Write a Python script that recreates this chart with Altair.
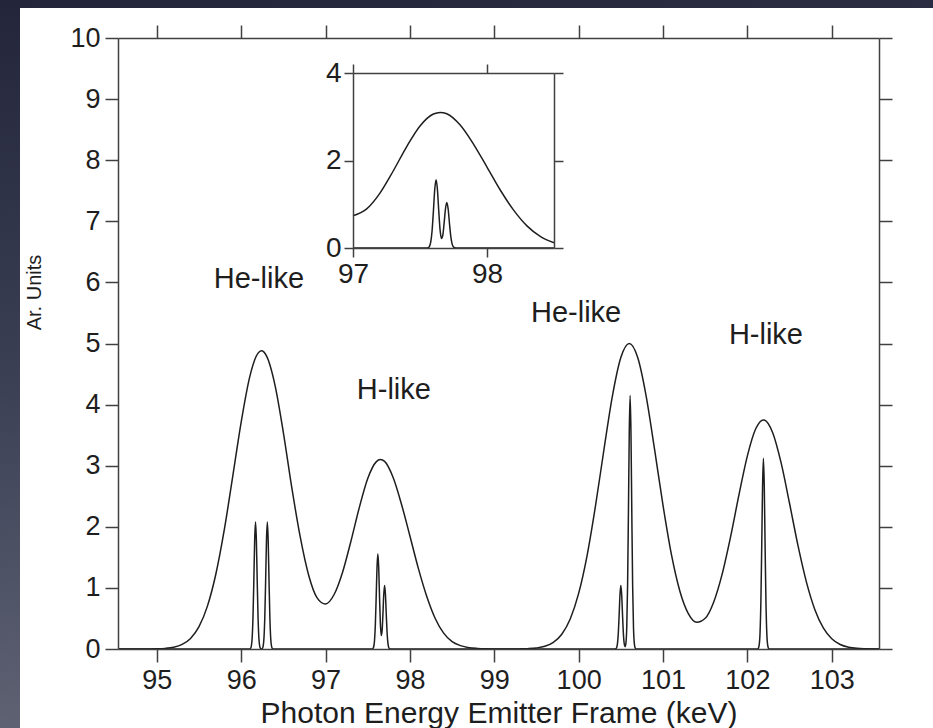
import altair as alt
import pandas as pd

# Broad (Doppler-broadened) emission envelope, keV vs arbitrary units
env_energy = [
    94.5, 94.6, 94.7, 94.8, 94.9, 95.0, 95.1, 95.2, 95.3, 95.4,
    95.5, 95.6, 95.7, 95.8, 95.9, 96.0, 96.1, 96.2, 96.24, 96.3,
    96.4, 96.5, 96.6, 96.7, 96.8, 96.9, 97.0, 97.1, 97.2, 97.3,
    97.4, 97.5, 97.6, 97.65, 97.7, 97.8, 97.9, 98.0, 98.1, 98.2,
    98.3, 98.4, 98.5, 98.6, 98.7, 98.8, 98.9, 99.0, 99.1, 99.2,
    99.3, 99.4, 99.5, 99.6, 99.7, 99.8, 99.9, 100.0, 100.1, 100.2,
    100.3, 100.4, 100.5, 100.6, 100.7, 100.8, 100.9, 101.0, 101.1, 101.2,
    101.3, 101.4, 101.5, 101.6, 101.7, 101.8, 101.9, 102.0, 102.1, 102.19,
    102.2, 102.3, 102.4, 102.5, 102.6, 102.7, 102.8, 102.9, 103.0, 103.1,
    103.2, 103.3, 103.4, 103.5, 103.6,
]
env_value = [
    0.0, 0.0, 0.0, 0.0, 0.001, 0.003, 0.010, 0.029, 0.075, 0.173,
    0.366, 0.702, 1.227, 1.952, 2.826, 3.714, 4.446, 4.843, 4.880, 4.797,
    4.324, 3.543, 2.640, 1.834, 1.207, 0.837, 0.736, 0.888, 1.249, 1.760,
    2.314, 2.790, 3.063, 3.100, 3.070, 2.810, 2.370, 1.850, 1.320, 0.860,
    0.500, 0.260, 0.120, 0.055, 0.022, 0.009, 0.003, 0.001, 0.0, 0.0,
    0.002, 0.006, 0.017, 0.044, 0.108, 0.242, 0.492, 0.910, 1.530, 2.345,
    3.265, 4.140, 4.770, 5.000, 4.770, 4.140, 3.266, 2.350, 1.544, 0.946,
    0.580, 0.437, 0.502, 0.766, 1.221, 1.832, 2.522, 3.161, 3.608, 3.750,
    3.748, 3.540, 3.045, 2.381, 1.691, 1.095, 0.644, 0.345, 0.168, 0.074,
    0.030, 0.011, 0.004, 0.001, 0.0,
]

# Narrow intrinsic line profiles (He-like pairs and H-like lines)
line_energy = [
    94.5, 96.10, 96.11, 96.12, 96.13, 96.14, 96.15, 96.16, 96.17, 96.18,
    96.19, 96.20, 96.21, 96.22, 96.23, 96.24, 96.25, 96.26, 96.27, 96.28,
    96.29, 96.30, 96.31, 96.32, 96.33, 96.34, 96.35, 96.36, 96.37, 96.38,
    97.0, 97.55, 97.56, 97.57, 97.58, 97.59, 97.60, 97.61, 97.62, 97.63,
    97.64, 97.65, 97.66, 97.67, 97.68, 97.69, 97.70, 97.71, 97.72, 97.73,
    97.74, 97.75, 97.76, 97.77, 98.5, 100.43, 100.44, 100.45, 100.46, 100.47,
    100.48, 100.49, 100.50, 100.51, 100.52, 100.53, 100.54, 100.55, 100.56, 100.57,
    100.58, 100.59, 100.60, 100.61, 100.62, 100.63, 100.64, 100.65, 100.66, 100.67,
    100.68, 100.69, 102.12, 102.13, 102.14, 102.15, 102.16, 102.17, 102.18, 102.19,
    102.20, 102.21, 102.22, 102.23, 102.24, 102.25, 102.26, 103.6,
]
line_value = [
    0.0, 0.0, 0.008, 0.044, 0.176, 0.518, 1.121, 1.783, 2.08, 1.783,
    1.121, 0.518, 0.176, 0.044, 0.008, 0.002, 0.008, 0.044, 0.176, 0.518,
    1.121, 1.783, 2.08, 1.783, 1.121, 0.518, 0.176, 0.044, 0.008, 0.0,
    0.0, 0.0, 0.006, 0.033, 0.132, 0.388, 0.841, 1.337, 1.56, 1.338,
    0.845, 0.410, 0.220, 0.292, 0.567, 0.892, 1.04, 0.891, 0.561, 0.259,
    0.088, 0.022, 0.004, 0.0, 0.0, 0.0, 0.004, 0.022, 0.088, 0.259,
    0.561, 0.891, 1.04, 0.891, 0.561, 0.259, 0.090, 0.038, 0.092, 0.352,
    1.033, 2.237, 3.557, 4.15, 3.557, 2.237, 1.033, 0.352, 0.088, 0.016,
    0.002, 0.0, 0.0, 0.012, 0.066, 0.264, 0.777, 1.682, 2.674, 3.12,
    2.674, 1.682, 0.777, 0.264, 0.066, 0.012, 0.0, 0.0,
]

# Peak annotations
note_text = ["He-like", "H-like", "He-like", "H-like"]
note_energy = [96.21, 97.81, 99.97, 102.22]
note_value = [6.06, 4.24, 5.50, 5.14]

# Tick positions
main_ticks_x = [95, 96, 97, 98, 99, 100, 101, 102, 103]
main_ticks_y = [0, 1, 2, 3, 4, 5, 6, 7, 8, 9, 10]
inset_ticks_x = [97, 98]
inset_ticks_y = [0, 2, 4]

spectrum = pd.concat([
    pd.DataFrame({"energy": env_energy, "value": env_value, "series": "envelope"}),
    pd.DataFrame({"energy": line_energy, "value": line_value, "series": "lines"}),
], ignore_index=True)
notes_df = pd.DataFrame({"energy": note_energy, "value": note_value, "text": note_text})

W, H = 761, 611
PAD = {"left": 118, "top": 38, "right": 933 - 118 - W, "bottom": 728 - 38 - H}
FONT = "Liberation Sans"
INK = "#1e1e1e"
FRAME = "#404040"

# inset placement inside the main plot area (pixels)
IN_X0, IN_X1 = 235, 436
IN_Y0, IN_Y1 = 210, 35


def axis(**kw):
    base = dict(domainColor=FRAME, domainWidth=1.5, tickColor=FRAME, tickWidth=1.5,
                grid=False, labelFont=FONT, labelColor=INK, labelFlush=False,
                labelOverlap=False, titleFont=FONT, titleColor=INK,
                titleFontWeight="normal", zindex=1)
    base.update(kw)
    return alt.Axis(**base)


x_main = alt.Scale(domain=[94.54, 103.56], nice=False, zero=False)
y_main = alt.Scale(domain=[0, 10], nice=False, zero=True)

one_row = alt.Data(values=[{"k": 1}])

backdrop = alt.Chart(one_row).mark_rect(
    color=alt.Gradient(
        gradient="linear", x1=0, y1=0, x2=0.15, y2=1,
        stops=[alt.GradientStop(color="#23263a", offset=0),
               alt.GradientStop(color="#3b3f54", offset=0.5),
               alt.GradientStop(color="#5f6374", offset=1)],
    )
).encode(
    x=alt.value(-PAD["left"]), x2=alt.value(W + PAD["right"]),
    y=alt.value(-PAD["top"]), y2=alt.value(H + PAD["bottom"]),
)

panel = alt.Chart(one_row).mark_rect(color="white").encode(
    x=alt.value(20 - PAD["left"]), x2=alt.value(W + PAD["right"]),
    y=alt.value(8 - PAD["top"]), y2=alt.value(H + PAD["bottom"]),
)

curves = alt.Chart(spectrum).mark_line(
    color=INK, strokeWidth=1.5, interpolate="monotone", clip=True
).encode(
    x=alt.X("energy:Q", scale=x_main,
            axis=axis(orient="bottom", values=main_ticks_x, tickSize=13,
                      labelFontSize=27, labelPadding=5,
                      title="Photon Energy Emitter Frame (keV)",
                      titleFontSize=30, titlePadding=5)),
    y=alt.Y("value:Q", scale=y_main,
            axis=axis(orient="left", values=main_ticks_y, tickSize=13,
                      labelFontSize=27, labelPadding=5,
                      title="Ar. Units", titleFontSize=20,
                      titleX=-84, titleY=254, titleBaseline="middle",
                      titleAlign="center")),
    detail="series:N",
)

mirror = alt.Chart(spectrum).mark_line(opacity=0).encode(
    x=alt.X("energy:Q", scale=x_main,
            axis=axis(orient="top", values=main_ticks_x, tickSize=13,
                      labels=False, title=None)),
    y=alt.Y("value:Q", scale=y_main,
            axis=axis(orient="right", values=main_ticks_y, tickSize=13,
                      labels=False, title=None)),
    detail="series:N",
)

notes = alt.Chart(notes_df).mark_text(
    font=FONT, fontSize=29, color=INK, align="center", baseline="middle"
).encode(
    x=alt.X("energy:Q", scale=x_main, axis=None),
    y=alt.Y("value:Q", scale=y_main, axis=None),
    text="text:N",
)

main = alt.layer(backdrop, panel, curves, mirror, notes).resolve_axis(
    x="independent", y="independent"
)

# zoomed view of the H-like doublet at 97.6-97.7 keV
x_in = alt.Scale(domain=[97, 98.5], range=[IN_X0, IN_X1], nice=False, zero=False)
y_in = alt.Scale(domain=[0, 4], range=[IN_Y0, IN_Y1], nice=False, zero=True)

inset_data = alt.Chart(spectrum).transform_filter(
    "datum.energy >= 97 && datum.energy <= 98.5"
)

inset_curves = inset_data.mark_line(
    color=INK, strokeWidth=1.5, interpolate="monotone"
).encode(
    x=alt.X("energy:Q", scale=x_in,
            axis=axis(orient="bottom", offset=IN_Y0 - H, values=inset_ticks_x,
                      tickSize=9, labelFontSize=28, labelPadding=3, title=None)),
    y=alt.Y("value:Q", scale=y_in,
            axis=axis(orient="left", offset=-IN_X0, values=inset_ticks_y,
                      tickSize=9, labelFontSize=28, labelPadding=3, title=None)),
    detail="series:N",
)

inset_mirror = inset_data.mark_line(opacity=0).encode(
    x=alt.X("energy:Q", scale=x_in,
            axis=axis(orient="top", offset=-IN_Y1, values=inset_ticks_x,
                      tickSize=9, labels=False, title=None)),
    y=alt.Y("value:Q", scale=y_in,
            axis=axis(orient="right", offset=IN_X1 - W, values=inset_ticks_y,
                      tickSize=9, labels=False, title=None)),
    detail="series:N",
)

inset = alt.layer(inset_curves, inset_mirror).resolve_axis(
    x="independent", y="independent"
)

chart = alt.layer(main, inset).resolve_scale(
    x="independent", y="independent"
).properties(
    width=W, height=H,
    autosize=alt.AutoSizeParams(type="none"),
    padding=PAD,
).configure(
    background="#262a3e", font=FONT
).configure_view(
    stroke="transparent"
)

chart.save("out.html", embed_options={"renderer": "svg", "actions": False})
